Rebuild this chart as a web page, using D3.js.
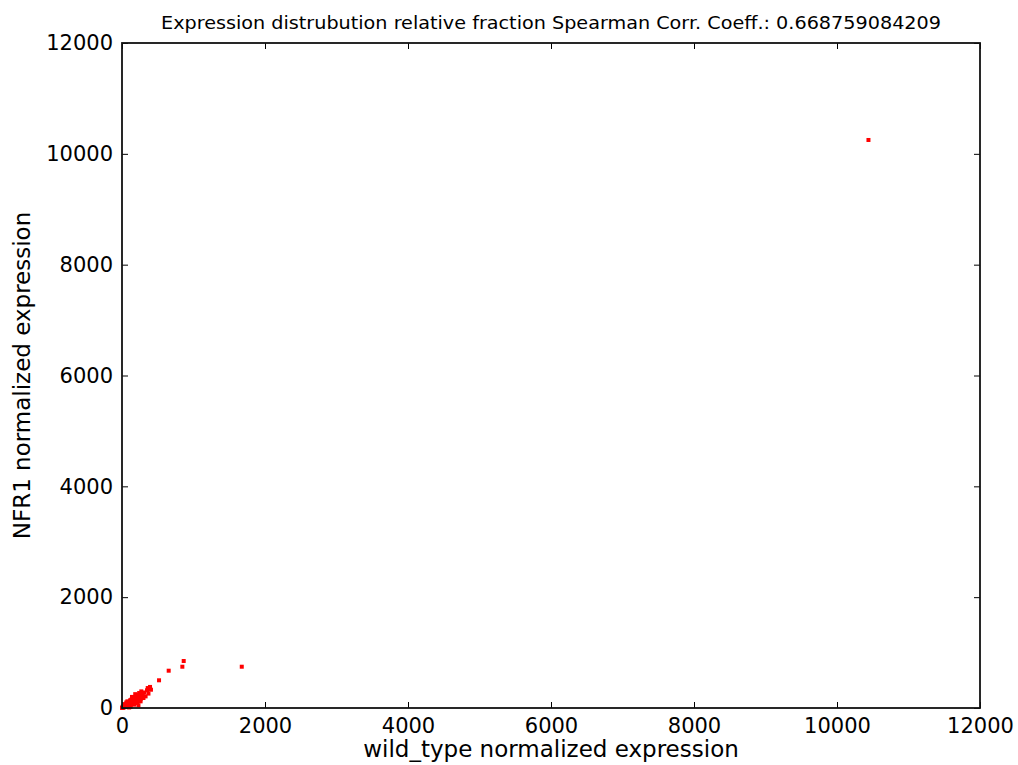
<!DOCTYPE html>
<html>
<head>
<meta charset="utf-8">
<script src="https://cdn.jsdelivr.net/npm/d3@7"></script>
<style>
  body { margin: 0; background: #fff; }
  text { font-family: "DejaVu Sans", sans-serif; fill: #000; }
</style>
</head>
<body>
<script>
// data
var wildType = [10440, 1675, 863, 844, 653, 518, 392, 405, 370, 350, 330, 310, 360, 290, 300, 270, 280, 250, 260, 240,
  230, 245, 220, 210, 225, 200, 205, 190, 180, 185, 170, 160, 165, 150, 155, 140, 145, 130, 135, 120,
  125, 110, 115, 100, 105, 95, 90, 85, 80, 75, 70, 65, 60, 55, 50, 45, 40, 35, 30, 25,
  20, 15, 12, 8, 5, 3, 60, 90, 140, 170, 210, 260, 120, 180, 230, 75, 40, 100];
var nfr1 = [10250, 745, 848, 745, 673, 500, 380, 330, 260, 320, 210, 280, 360, 230, 180, 300, 250, 210, 160, 270,
  190, 240, 130, 200, 170, 150, 230, 120, 170, 250, 110, 190, 140, 100, 160, 130, 80, 150, 90, 120,
  60, 100, 140, 70, 110, 90, 60, 80, 40, 70, 50, 30, 60, 20, 45, 30, 25, 40, 15, 20,
  10, 12, 30, 5, 8, 2, 100, 30, 200, 60, 90, 120, 20, 100, 50, 120, 70, 10];
var xTicks = [0, 2000, 4000, 6000, 8000, 10000, 12000];
var yTicks = [0, 2000, 4000, 6000, 8000, 10000, 12000];

var W = 1018, H = 765;
var mLeft = 122, mRight = 980, mTop = 43, mBottom = 708;

var svg = d3.select('body').append('svg')
    .attr('width', W)
    .attr('height', H);

var x = d3.scaleLinear().domain([0, 12000]).range([mLeft, mRight]);
var y = d3.scaleLinear().domain([0, 12000]).range([mBottom, mTop]);

//points
svg.append('g').selectAll('rect')
    .data(wildType.map(function(d, i){ return [d, nfr1[i]]; }))
    .enter().append('rect')
    .attr('x', function(d){ return x(d[0]) - 2; })
    .attr('y', function(d){ return y(d[1]) - 2; })
    .attr('width', 4)
    .attr('height', 4)
    .attr('fill', '#ff0000');

//axes, ticks pointing inward on all four sides
var axB = d3.axisBottom(x).tickValues(xTicks).tickSize(-6).tickPadding(10).tickFormat(d3.format('d'));
var axT = d3.axisTop(x).tickValues(xTicks).tickSize(-6).tickFormat('');
var axL = d3.axisLeft(y).tickValues(yTicks).tickSize(-6).tickPadding(9).tickFormat(d3.format('d'));
var axR = d3.axisRight(y).tickValues(yTicks).tickSize(-6).tickFormat('');

function styleAxis(g){
    g.select('.domain').remove();
    g.selectAll('line').attr('stroke', '#000').attr('stroke-width', 1);
    g.selectAll('text').style('font-size', '21px').attr('fill', '#111');
}
svg.append('g').attr('transform', 'translate(0,' + mBottom + ')').call(axB).call(styleAxis);
svg.append('g').attr('transform', 'translate(0,' + mTop + ')').call(axT).call(styleAxis);
svg.append('g').attr('transform', 'translate(' + mLeft + ',0)').call(axL).call(styleAxis);
svg.append('g').attr('transform', 'translate(' + mRight + ',0)').call(axR).call(styleAxis);

//frame
svg.append('rect')
    .attr('x', mLeft).attr('y', mTop)
    .attr('width', mRight - mLeft).attr('height', mBottom - mTop)
    .attr('fill', 'none').attr('stroke', '#111').attr('stroke-width', 1.8);

//labels
svg.append('text')
    .attr('x', (mLeft + mRight) / 2).attr('y', 29)
    .attr('text-anchor', 'middle')
    .attr('textLength', 780).attr('lengthAdjust', 'spacingAndGlyphs')
    .style('font-size', '17px')
    .text('Expression distrubution relative fraction Spearman Corr. Coeff.: 0.668759084209');

svg.append('text')
    .attr('x', (mLeft + mRight) / 2).attr('y', 757)
    .attr('text-anchor', 'middle')
    .style('font-size', '23px')
    .text('wild_type normalized expression');

svg.append('text')
    .attr('transform', 'translate(30,' + (mTop + mBottom) / 2 + ') rotate(-90)')
    .attr('text-anchor', 'middle')
    .style('font-size', '23px')
    .text('NFR1 normalized expression');
</script>
</body>
</html>
